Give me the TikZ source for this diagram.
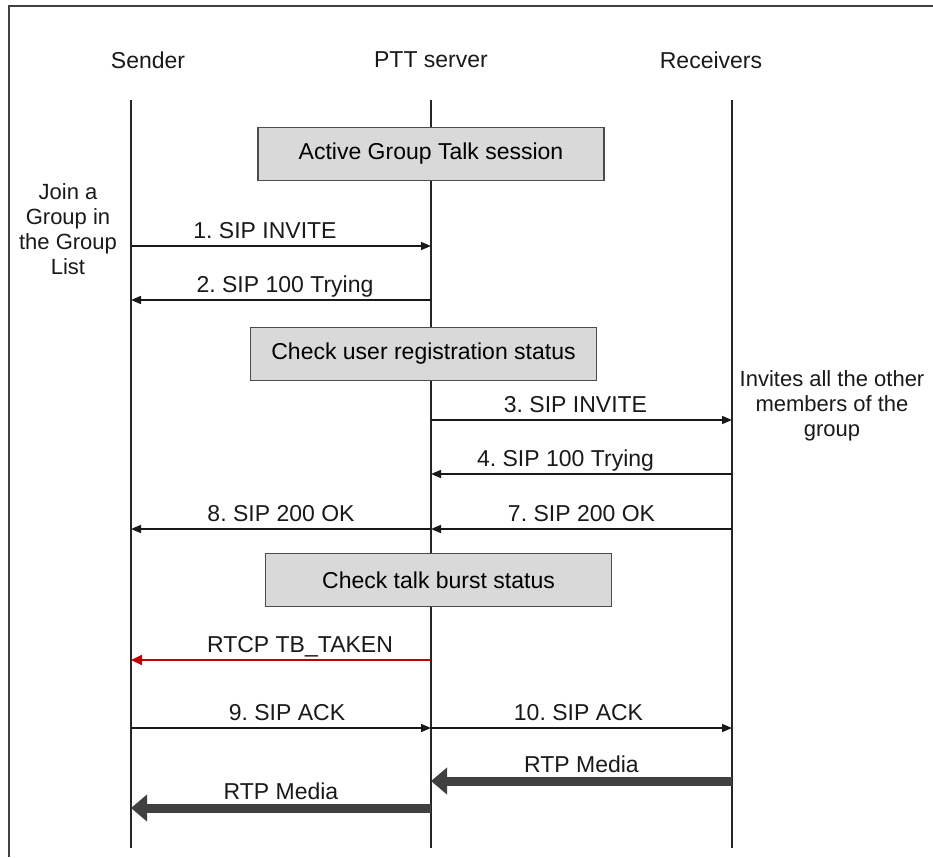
\documentclass[tikz,border=0pt]{standalone}
\usepackage{fontspec}
\setmainfont{Liberation Sans}
\usetikzlibrary{arrows.meta,positioning}

\definecolor{boxgray}{HTML}{D9D9D9}
\definecolor{mediagray}{HTML}{404040}
\definecolor{tbred}{HTML}{C00000}

\tikzset{
  lifeline/.style={line width=1.8pt, draw=black!85},
  frame/.style={line width=1.4pt, draw=black!75},
  msg/.style={line width=1.6pt, draw=black!90, -{Triangle[length=10pt,width=8pt]}},
  tbmsg/.style={line width=2pt, draw=tbred, -{Triangle[length=11pt,width=10pt]}},
  media/.style={line width=9pt, draw=mediagray, -{Triangle[length=16pt,width=26pt]}},
  statebox/.style={draw=black!70, line width=1.2pt, fill=boxgray,
    minimum width=346pt, minimum height=53pt, font=\fontsize{23}{27}\selectfont},
  lbl/.style={font=\fontsize{23}{27}\selectfont, text=black!90},
  msglbl/.style={lbl, above=-2pt, text height=16pt, text depth=5pt},
  note/.style={font=\fontsize{22}{25}\selectfont, text=black!90, align=center}
}

\begin{document}
\frenchspacing
\begin{tikzpicture}[x=1pt,y=-1pt]
\useasboundingbox (0,0) rectangle (933,857);

% frame
\coordinate (fTL) at (9,6);
\coordinate (fTR) at (933,6);
\coordinate (fBL) at (9,857);
\draw[frame] (fTR) -- (fTL) -- (fBL);

% heads
\node[lbl] (sender) at (148,60) {Sender};
\node[lbl] (server) at (431,60) {PTT server};
\node[lbl] (receivers) at (711,60) {Receivers};

% lifelines
\coordinate (s0) at (131,100);  \coordinate (sN) at (131,848);
\coordinate (p0) at (431,100);  \coordinate (pN) at (431,848);
\coordinate (r0) at (732,100);  \coordinate (rN) at (732,848);
\draw[lifeline] (s0) -- (sN);
\draw[lifeline] (p0) -- (pN);
\draw[lifeline] (r0) -- (rN);

% states
\node[statebox] (active) at (431,154) {Active Group Talk session};
\node[statebox] (checkreg) at (423.5,354) {Check user registration status};
\node[statebox] (checktb) at (438.5,580) {Check talk burst status};

% notes
\node[note] (join) at (68,229) {Join a\\Group in\\the Group\\List};
\node[note] (invites) at (832,406) {Invites all the other\\members of the\\group};

% messages
\coordinate (s1) at (131,246);  \coordinate (p1) at (431,246);
\coordinate (s2) at (131,300);  \coordinate (p2) at (431,300);
\coordinate (p3) at (431,420);  \coordinate (r3) at (732,420);
\coordinate (p4) at (431,474);  \coordinate (r4) at (732,474);
\coordinate (s8) at (131,529);  \coordinate (p7) at (431,529);  \coordinate (r7) at (732,529);
\coordinate (stb) at (131,660); \coordinate (ptb) at (431,660);
\coordinate (s9) at (131,728);  \coordinate (p9) at (431,728);  \coordinate (r10) at (732,728);
\coordinate (pm1) at (431,781); \coordinate (rm1) at (732,781);
\coordinate (sm2) at (131,808); \coordinate (pm2) at (431,808);

\draw[msg] (s1) -- node[msglbl, xshift=-16pt] (m1) {1. SIP INVITE} (p1);
\draw[msg] (p2) -- node[msglbl, xshift=4pt] (m2) {2. SIP 100 Trying} (s2);
\draw[msg] (p3) -- node[msglbl, xshift=-6pt] (m3) {3. SIP INVITE} (r3);
\draw[msg] (r4) -- node[msglbl, xshift=-16pt] (m4) {4. SIP 100 Trying} (p4);
\draw[msg] (r7) -- node[msglbl] (m7) {7. SIP 200 OK} (p7);
\draw[msg] (p7) -- node[msglbl] (m8) {8. SIP 200 OK} (s8);
\draw[tbmsg] (ptb) -- node[msglbl, xshift=19pt] (mtb) {RTCP TB\_TAKEN} (stb);
\draw[msg] (s9) -- node[msglbl, xshift=6pt] (m9) {9. SIP ACK} (p9);
\draw[msg] (p9) -- node[msglbl, xshift=-3pt] (m10) {10. SIP ACK} (r10);
\draw[media] (rm1) -- node[msglbl, above=-4pt] (rtp1) {RTP Media} (pm1);
\draw[media] (pm2) -- node[msglbl, above=-4pt] (rtp2) {RTP Media} (sm2);
\end{tikzpicture}
\end{document}
